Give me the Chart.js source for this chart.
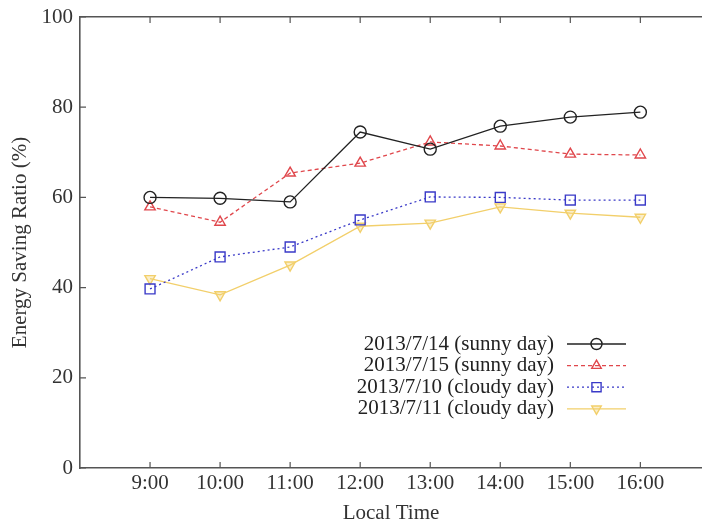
<!DOCTYPE html>
<html>
<head>
<meta charset="utf-8">
<script src="https://cdn.jsdelivr.net/npm/chart.js@4/dist/chart.umd.min.js"></script>
<style>
  html, body { margin: 0; padding: 0; background: #fff; overflow: hidden; }
  #wrap { width: 702px; height: 524px; }
</style>
</head>
<body>
<div id="wrap"><canvas id="chart"></canvas></div>
<script>
// Values
const hours = [9, 10, 11, 12, 13, 14, 15, 16];
const hourLabels = ['9:00', '10:00', '11:00', '12:00', '13:00', '14:00', '15:00', '16:00'];
const yTicks = [0, 20, 40, 60, 80, 100];

const sunny14 = [60.0, 59.8, 59.0, 74.5, 70.7, 75.8, 77.8, 78.9];
const sunny15 = [57.9, 54.5, 65.4, 67.6, 72.3, 71.4, 69.6, 69.4];
const cloudy10 = [39.7, 46.8, 49.0, 55.0, 60.1, 60.0, 59.4, 59.4];
const cloudy11 = [42.0, 38.4, 45.0, 53.6, 54.3, 57.9, 56.5, 55.6];

const seriesLabels = [
  '2013/7/14 (sunny day)',
  '2013/7/15 (sunny day)',
  '2013/7/10 (cloudy day)',
  '2013/7/11 (cloudy day)',
];

const X_MIN = 8, X_MAX = 16.88;
const AXIS = '#555';
const FONT = "'Liberation Serif', 'DejaVu Serif', serif";

Chart.defaults.font.family = FONT;
Chart.defaults.font.size = 21;
Chart.defaults.color = '#333';

const pts = vals => vals.map((v, i) => ({ x: hours[i], y: v }));

function series(label, vals, color, style, dash, extra) {
  return Object.assign({
    label,
    data: pts(vals),
    borderColor: color,
    borderWidth: 1.3,
    borderDash: dash,
    pointStyle: style,
    pointRadius: 6,
    pointBorderWidth: 1.4,
    pointBorderColor: color,
    pointBackgroundColor: 'rgba(255,255,255,0)',
    tension: 0,
    fill: false,
  }, extra || {});
}

// gnuplot style: tick marks pointing into the plot
const inwardTicks = {
  id: 'inwardTicks',
  afterDraw(chart) {
    const { ctx, chartArea: a, scales } = chart;
    ctx.save();
    ctx.strokeStyle = AXIS;
    ctx.lineWidth = 1.2;
    ctx.beginPath();
    for (const h of hours) {
      const px = scales.x.getPixelForValue(h);
      ctx.moveTo(px, a.bottom); ctx.lineTo(px, a.bottom - 6);
      ctx.moveTo(px, a.top); ctx.lineTo(px, a.top + 6);
    }
    for (const t of yTicks) {
      const py = scales.y.getPixelForValue(t);
      ctx.moveTo(a.left, py); ctx.lineTo(a.left + 6, py);
    }
    ctx.stroke();
    ctx.restore();
  }
};

// legend with text on the left, right aligned, and the sample on the right
const sideLegend = {
  id: 'sideLegend',
  afterDraw(chart) {
    const { ctx } = chart;
    const textRight = 554, lineL = 567, lineR = 626, rowY = 344, rowH = 21.6;
    ctx.save();
    chart.data.datasets.forEach((ds, i) => {
      const y = rowY + i * rowH;
      ctx.font = '21px ' + FONT;
      ctx.fillStyle = '#222';
      ctx.textAlign = 'right';
      ctx.textBaseline = 'middle';
      ctx.fillText(ds.label, textRight, y);
      ctx.strokeStyle = ds.borderColor;
      ctx.lineWidth = ds.borderWidth;
      ctx.setLineDash(ds.borderDash || []);
      ctx.beginPath();
      ctx.moveTo(lineL, y); ctx.lineTo(lineR, y);
      ctx.stroke();
      ctx.setLineDash([]);
      ctx.fillStyle = ds.pointBackgroundColor;
      ctx.strokeStyle = ds.pointBorderColor;
      ctx.lineWidth = ds.pointBorderWidth;
      Chart.helpers.drawPoint(ctx, {
        pointStyle: ds.pointStyle,
        radius: ds.pointRadius - 0.5,
        rotation: ds.pointRotation || 0,
        borderWidth: ds.pointBorderWidth,
      }, (lineL + lineR) / 2, y);
    });
    ctx.restore();
  }
};

const noPad = s => { s.paddingLeft = 0; s.paddingRight = 0; s.paddingTop = 0; s.paddingBottom = 0; };

new Chart(document.getElementById('chart'), {
  type: 'line',
  data: {
    datasets: [
      series(seriesLabels[0], sunny14, '#222', 'circle', []),
      series(seriesLabels[1], sunny15, '#e0474c', 'triangle', [4, 3]),
      series(seriesLabels[2], cloudy10, '#3a3ac8', 'rect', [2, 3], { pointRadius: 7 }),
      series(seriesLabels[3], cloudy11, '#f2cf6a', 'triangle', [], {
        pointRotation: 180, pointBackgroundColor: 'rgba(242,207,106,0.35)'
      }),
    ],
  },
  options: {
    responsive: true,
    maintainAspectRatio: false,
    animation: false,
    layout: { padding: 0, autoPadding: false },
    plugins: { legend: { display: false }, tooltip: { enabled: false } },
    scales: {
      x: {
        type: 'linear',
        position: 'bottom',
        min: X_MIN,
        max: X_MAX,
        afterBuildTicks: s => { s.ticks = hours.map(v => ({ value: v })); },
        ticks: {
          autoSkip: false,
          maxRotation: 0,
          padding: 3,
          color: '#333',
          callback: v => hourLabels[hours.indexOf(v)] || '',
        },
        grid: { drawOnChartArea: false, drawTicks: false },
        border: { display: true, color: AXIS, width: 1.6 },
        title: { display: true, text: 'Local Time', color: '#333', padding: { top: 0, bottom: -2 } },
        afterFit: s => { s.height = 56; noPad(s); },
      },
      x2: {
        type: 'linear',
        position: 'top',
        min: X_MIN,
        max: X_MAX,
        ticks: { display: false },
        grid: { drawOnChartArea: false, drawTicks: false },
        border: { display: true, color: AXIS, width: 1.6 },
        afterFit: s => { s.height = 17; noPad(s); },
      },
      y: {
        min: 0,
        max: 100,
        afterBuildTicks: s => { s.ticks = yTicks.map(v => ({ value: v })); },
        ticks: { padding: 7, color: '#333' },
        grid: { drawOnChartArea: false, drawTicks: false },
        border: { display: true, color: AXIS, width: 1.6 },
        title: { display: true, text: 'Energy Saving Ratio (%)', color: '#333', padding: { top: 8, bottom: 0 } },
        afterFit: s => { s.width = 80; noPad(s); },
      },
    },
  },
  plugins: [inwardTicks, sideLegend],
});
</script>
</body>
</html>
